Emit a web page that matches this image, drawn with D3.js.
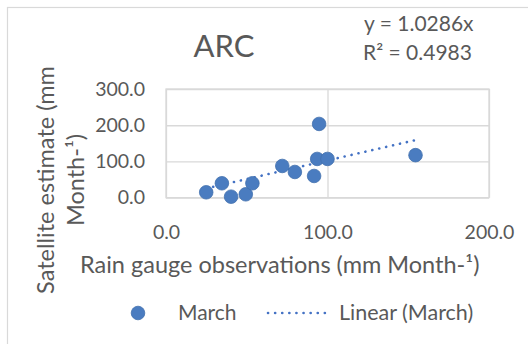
<!DOCTYPE html>
<html>
<head>
<meta charset="utf-8">
<script src="https://cdn.jsdelivr.net/npm/d3@7"></script>
<style>
  html, body { margin: 0; padding: 0; background: #fff; }
  svg { display: block; }
  text { font-family: Lato, "Open Sans", sans-serif; fill: #595959; }
</style>
</head>
<body>
<svg id="chart" width="528" height="344"></svg>
<script>
// Rain gauge observations vs. satellite estimate, March (mm Month-1)
const gaugeObs = [24.9, 34.6, 40.3, 49.4, 53.5, 72.0, 79.8, 91.7, 93.6, 94.8, 100.0, 154.5];
const satelliteEst = [14.9, 39.8, 2.8, 9.4, 39.8, 87.6, 71.0, 60.0, 107.0, 203.6, 107.0, 117.4];
const xTicks = [0, 100, 200];
const yTicks = [0, 100, 200, 300];
const trendSlope = 1.0286;
const rSquared = 0.4983;
const seriesName = "March";

const svg = d3.select("#chart");
const W = 528, H = 344;

// outer chart frame
svg.append("rect")
  .attr("x", 7.5).attr("y", 7.5)
  .attr("width", W + 10).attr("height", H + 10)
  .attr("fill", "#fff").attr("stroke", "#d9d9d9").attr("stroke-width", 1.2);

const plot = { left: 166, right: 489, top: 89, bottom: 197.7 };
const x = d3.scaleLinear().domain([0, 200]).range([plot.left, plot.right]);
const y = d3.scaleLinear().domain([0, 300]).range([plot.bottom, plot.top]);

const grid = "#d9d9d9";

// horizontal gridlines + y labels
const yAxis = d3.axisLeft(y).tickValues(yTicks).tickSize(-(plot.right - plot.left))
  .tickFormat(d3.format(".1f")).tickPadding(21);
const gy = svg.append("g").attr("transform", `translate(${plot.left},0)`).call(yAxis);
gy.select(".domain").remove();
gy.selectAll("line").attr("stroke", grid).attr("stroke-width", 1.3);
gy.selectAll("text").style("font-size", "19.5px").attr("fill", "#595959");

// vertical gridlines + x labels
const xAxis = d3.axisBottom(x).tickValues(xTicks).tickSize(-(plot.bottom - plot.top))
  .tickFormat(d3.format(".1f")).tickPadding(27);
const gx = svg.append("g").attr("transform", `translate(0,${plot.bottom})`).call(xAxis);
gx.select(".domain").remove();
gx.selectAll("line").attr("stroke", grid).attr("stroke-width", 1.3);
gx.selectAll("text").style("font-size", "19.5px").attr("fill", "#595959");

// plot area frame
svg.append("rect")
  .attr("x", plot.left).attr("y", plot.top)
  .attr("width", plot.right - plot.left).attr("height", plot.bottom - plot.top)
  .attr("fill", "none").attr("stroke", grid).attr("stroke-width", 1.3);

// linear trendline through origin
const [xMin, xMax] = d3.extent(gaugeObs);
svg.append("line")
  .attr("x1", x(xMin)).attr("y1", y(trendSlope * xMin))
  .attr("x2", x(xMax)).attr("y2", y(trendSlope * xMax))
  .attr("stroke", "#4472c4").attr("stroke-width", 2.6)
  .attr("stroke-linecap", "round").attr("stroke-dasharray", "0.1 7");

// points
svg.append("g").selectAll("circle")
  .data(gaugeObs.map((g, i) => [g, satelliteEst[i]]))
  .join("circle")
  .attr("cx", d => x(d[0])).attr("cy", d => y(d[1]))
  .attr("r", 6.8)
  .attr("fill", "#4a7cc0").attr("stroke", "#4170ad").attr("stroke-width", 0.8);

// title
svg.append("text").attr("x", 224).attr("y", 57).attr("text-anchor", "middle")
  .style("font-size", "31px").text("ARC");

// regression equation
svg.append("text").attr("x", 364).attr("y", 31).style("font-size", "21px")
  .text(`y = ${trendSlope.toFixed(4)}x`);
svg.append("text").attr("x", 363).attr("y", 60).style("font-size", "21px")
  .text(`R² = ${rSquared.toFixed(4)}`);

// axis titles
svg.append("text").attr("x", 80).attr("y", 273).style("font-size", "23.5px")
  .text("Rain gauge observations (mm Month-¹)");
const yt = svg.append("text").attr("transform", "translate(0,180) rotate(-90)")
  .attr("text-anchor", "middle").style("font-size", "23.5px");
yt.append("tspan").attr("x", 0).attr("y", 54).text("Satellite estimate (mm");
yt.append("tspan").attr("x", 0).attr("y", 84).text("Month-¹)");

// legend
svg.append("circle").attr("cx", 138).attr("cy", 313).attr("r", 6.8)
  .attr("fill", "#4a7cc0").attr("stroke", "#4170ad").attr("stroke-width", 0.8);
svg.append("text").attr("x", 178).attr("y", 320).style("font-size", "21px").text(seriesName);
svg.append("line").attr("x1", 268).attr("x2", 328).attr("y1", 313).attr("y2", 313)
  .attr("stroke", "#4472c4").attr("stroke-width", 2.6)
  .attr("stroke-linecap", "round").attr("stroke-dasharray", "0.1 7");
svg.append("text").attr("x", 339).attr("y", 320).style("font-size", "21.5px")
  .text(`Linear (${seriesName})`);
</script>
</body>
</html>
